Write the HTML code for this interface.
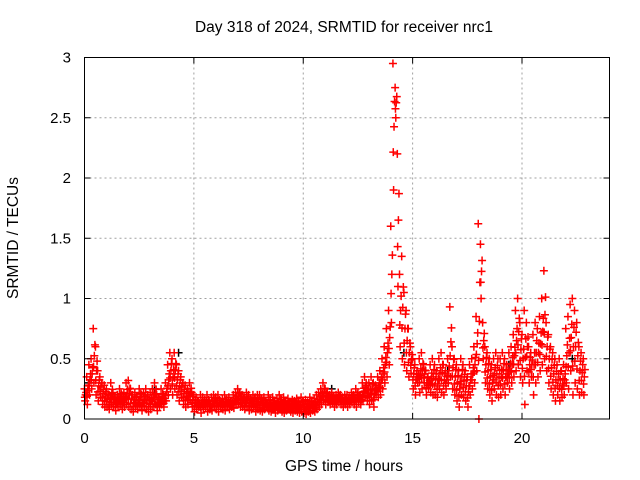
<!DOCTYPE html>
<html><head><meta charset="utf-8"><style>
body{margin:0;background:#fff;}
svg{display:block;font-family:"Liberation Sans",Arial,sans-serif;}
</style></head><body>
<svg id="chart" width="640" height="480">
<text x="344" y="32" text-anchor="middle" font-size="15.5">Day 318 of 2024, SRMTID for receiver nrc1</text>
<text transform="translate(18,238) rotate(-90)" text-anchor="middle" font-size="15.5">SRMTID / TECUs</text>
<text x="344" y="471" text-anchor="middle" font-size="15.5">GPS time / hours</text>
<g id="grid"></g>
<g id="marks"></g>
<rect x="84.5" y="57.5" width="525" height="361.5" fill="none" stroke="#000" stroke-width="1"/>
<g id="ticks"></g>
</svg>
<script>
const xTicks=[0,5,10,15,20];
const yTicks=[0,0.5,1,1.5,2,2.5,3];
const yTickLabels=["0","0.5","1","1.5","2","2.5","3"];
const valuesA=[
.25,.35,.45,.5,.75,.6,.4,.35,.3,.28,
.25,.2,.3,.22,.18,.2,.25,.2,.22,.3,
.32,.25,.2,.22,.18,.25,.2,.22,.25,.2,
.22,.25,.3,.2,.18,.25,.2,.3,.45,.55,
.5,.55,.45,.4,.35,.3,.28,.25,.3,.22,
.2,.18,.15,.2,.18,.16,.2,.15,.18,.2,
.18,.2,.15,.17,.2,.16,.18,.15,.2,.22,
.25,.22,.2,.18,.22,.2,.17,.2,.18,.2,
.2,.17,.18,.15,.2,.16,.18,.15,.17,.2,
.16,.18,.15,.17,.14,.16,.15,.17,.14,.18,
.15,.16,.14,.18,.15,.17,.2,.22,.25,.3,
.25,.22,.2,.22,.18,.2,.22,.2,.18,.2,
.2,.18,.22,.2,.25,.22,.2,.3,.35,.28,
.3,.35,.3,.28,.35,.4,.5,.6,.75,.9,
1.6,2.95,2.75,2.2,1.2,1.35,1.05,.9,.75,.6,
.5,.45,.4,.5,.55,.45,.4,.35,.45,.5,
.45,.4,.5,.55,.45,.4,.5,.93,.6,.5,
.45,.4,.5,.45,.4,.35,.45,.5,.6,.85,
1.62,1.45,.8,.6,.55,.5,.45,.5,.55,.5,
.5,.55,.5,.45,.55,.6,.7,.9,1.0,.8,
.7,.9,.8,.6,.55,.7,.8,.75,.85,1.0,
1.23,.8,.7,.6,.55,.5,.45,.5,.4,.45,
.75,.85,.95,1.0,.9,.8,.6,.55,.5];
const valuesB=[
.15,.12,.2,.25,.3,.2,.15,.18,.12,.1,
.1,.08,.12,.1,.07,.1,.12,.08,.1,.12,
.1,.08,.06,.1,.08,.12,.07,.1,.08,.06,
.08,.1,.12,.07,.1,.12,.1,.15,.2,.25,
.2,.25,.2,.15,.18,.12,.1,.12,.15,.1,
.06,.08,.1,.05,.08,.1,.06,.08,.07,.1,
.08,.06,.1,.08,.07,.1,.08,.1,.09,.12,
.12,.1,.1,.08,.1,.07,.08,.1,.06,.08,
.07,.06,.08,.1,.07,.06,.08,.05,.07,.08,
.06,.05,.07,.08,.06,.05,.07,.06,.05,.06,
.05,.04,.06,.05,.07,.06,.08,.1,.12,.15,
.12,.14,.12,.13,.1,.12,.14,.12,.1,.12,
.1,.12,.14,.12,.1,.14,.12,.15,.18,.15,
.12,.15,.1,.2,.18,.2,.25,.3,.35,.45,
.8,1.9,2.5,1.1,.6,.5,.45,.4,.35,.38,
.25,.2,.3,.22,.25,.3,.2,.25,.22,.2,
.2,.18,.25,.22,.2,.25,.3,.35,.25,.2,
.15,.1,.2,.18,.15,.1,.2,.25,.3,.4,
0,1.0,.5,.3,.25,.2,.15,.25,.2,.18,
.2,.25,.2,.3,.25,.3,.35,.4,.45,.35,
.3,.12,.4,.3,.35,.2,.3,.35,.4,.45,
.5,.4,.3,.25,.2,.15,.2,.15,.18,.2,
.3,.25,.4,.2,.3,.25,.2,.22,.2];
const blackHours=[0.2,1.5,3.2,4.3,7.1,11.3,14.6,16.6,19.4,22.3];
const blackValues=[0.3,0.2,0.25,0.55,0.22,0.25,0.55,0.4,0.45,0.5];
const hourStep=0.1;
const X=h=>84.5+h*525/24;
const Y=v=>419-v*361.5/3;
const NS="http://www.w3.org/2000/svg";
const grid=document.getElementById('grid'),ticks=document.getElementById('ticks'),marks=document.getElementById('marks');
function mk(tag,attrs,parent){const e=document.createElementNS(NS,tag);for(const k in attrs)e.setAttribute(k,attrs[k]);parent.appendChild(e);return e;}
xTicks.forEach(t=>{
 const x=X(t);
 if(t>0){const g=mk('line',{x1:x,x2:x,y1:57.5,y2:419,stroke:'#a0a0a0','stroke-dasharray':'2,3'},grid);
 
 }
 mk('line',{x1:x,x2:x,y1:419,y2:413,stroke:'#000'},ticks);
 mk('line',{x1:x,x2:x,y1:57.5,y2:63.5,stroke:'#000'},ticks);
 const l=mk('text',{x:x,y:443,'text-anchor':'middle','font-size':'15'},ticks);l.textContent=t;
 
 
});
yTicks.forEach((v,i)=>{
 const y=Y(v);
 if(v>0&&v<3){const g=mk('line',{x1:84.5,x2:609.5,y1:y,y2:y,stroke:'#a0a0a0','stroke-dasharray':'2,3'},grid);
 
 }
 mk('line',{x1:84.5,x2:90.5,y1:y,y2:y,stroke:'#000'},ticks);
 mk('line',{x1:603.5,x2:609.5,y1:y,y2:y,stroke:'#000'},ticks);
 const l=mk('text',{x:71,y:y+5,'text-anchor':'end','font-size':'15'},ticks);l.textContent=yTickLabels[i];
 
 
});
function plus(h,v,color){
 const x=X(h),y=Y(v);
 const p=mk('path',{d:`M${x-4} ${y}H${x+4}M${x} ${y-4}V${y+4}`,stroke:color,'stroke-width':'1.5',fill:'none'},marks);
 
 
}
blackHours.forEach((h,i)=>plus(h,blackValues[i],'#000'));
valuesA.forEach((v,i)=>{
 const h=i*hourStep, b=valuesB[i];
 plus(h,v,'#ff0000');
 plus(h+hourStep*0.5,(v+b)/2,'#ff0000');
 plus(h+hourStep*0.3,b,'#ff0000');
 plus(h+hourStep*0.75,v*0.7+b*0.3,'#ff0000');
 plus(h+hourStep*0.15,v*0.3+b*0.7,'#ff0000');
});
</script>
</body></html>
